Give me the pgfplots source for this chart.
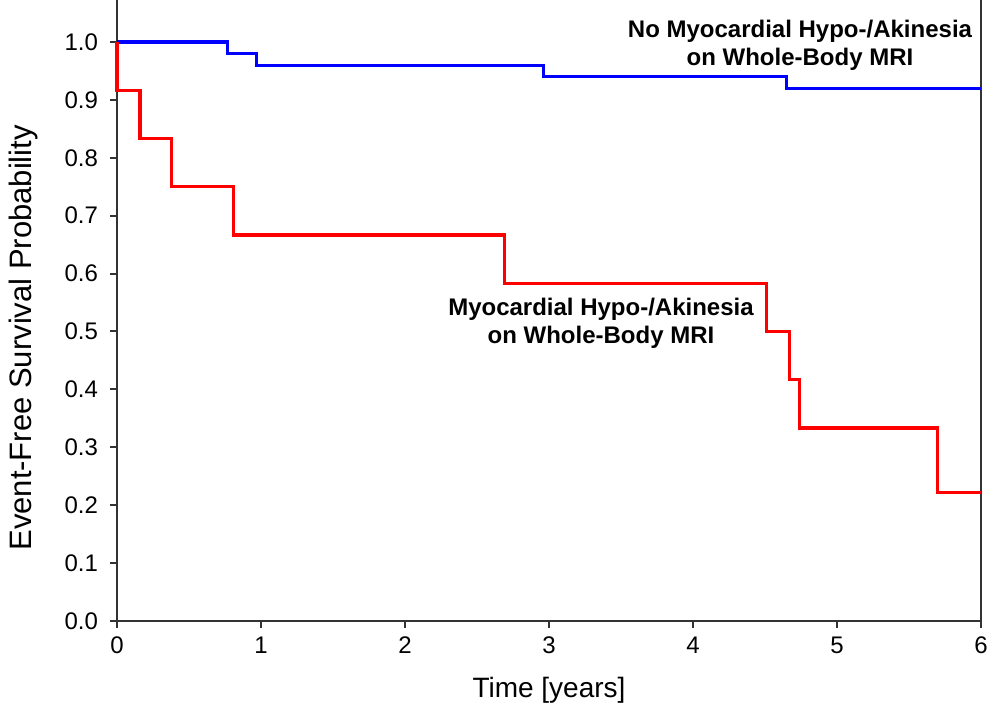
\documentclass[border=0pt]{standalone}
\usepackage{fontspec}
\setmainfont{Liberation Sans}
\usepackage{pgfplots}
\pgfplotsset{compat=1.18}
\begin{document}
\begin{tikzpicture}
\begin{axis}[
  scale only axis,
  width=432pt, height=310.5pt,
  xmin=0, xmax=6, ymin=0, ymax=1.0725,
  axis x line*=bottom, axis y line*=box,
  ytick pos=left, xtick pos=bottom,
  tick align=outside,
  major tick length=3.5pt,
  axis line style={line width=1pt, black!80},
  every tick/.style={line width=1pt, black!80},
  xtick={0,1,2,3,4,5,6},
  ytick={0,0.1,0.2,0.3,0.4,0.5,0.6,0.7,0.8,0.9,1.0},
  yticklabel style={/pgf/number format/fixed, /pgf/number format/fixed zerofill, /pgf/number format/precision=1, font=\fontsize{12}{14}\selectfont, xshift=-2.5pt},
  xticklabel style={font=\fontsize{12}{14}\selectfont, yshift=-1pt},
  /pgf/number format/assume math mode=true,
  xlabel={Time [years]},
  ylabel={Event-Free Survival Probability},
  xlabel style={font=\fontsize{14}{16}\selectfont, at={(axis description cs:0.5,-0.111)}, anchor=center},
  ylabel style={font=\fontsize{15.5}{17}\selectfont, at={(axis description cs:-0.1088,0.456)}, anchor=center, rotate=0},
  clip=false,
]
\addplot[const plot mark left, blue, line width=1.6pt] coordinates {
  (0,1.0) (0.77,0.98) (0.97,0.96) (2.96,0.94) (4.65,0.92) (6,0.92)
};
\addplot[const plot mark left, red, line width=1.6pt] coordinates {
  (0,1.0) (0,0.9167) (0.16,0.8333) (0.38,0.75) (0.81,0.6667) (2.69,0.5833)
  (4.51,0.5) (4.67,0.4167) (4.74,0.3333) (5.70,0.2222) (6,0.2222)
};
\node[align=center, font=\bfseries\fontsize{12}{14}\selectfont] at (axis cs:4.743,0.995) {No Myocardial Hypo-/Akinesia\\on Whole-Body MRI};
\node[align=center, font=\bfseries\fontsize{12}{14}\selectfont] at (axis cs:3.361,0.514) {Myocardial Hypo-/Akinesia\\on Whole-Body MRI};
\end{axis}
\pgfresetboundingbox
\path ([xshift=-58.5pt,yshift=-41.5pt]current axis.south west) rectangle ([xshift=4.5pt]current axis.north east);
\end{tikzpicture}
\end{document}
